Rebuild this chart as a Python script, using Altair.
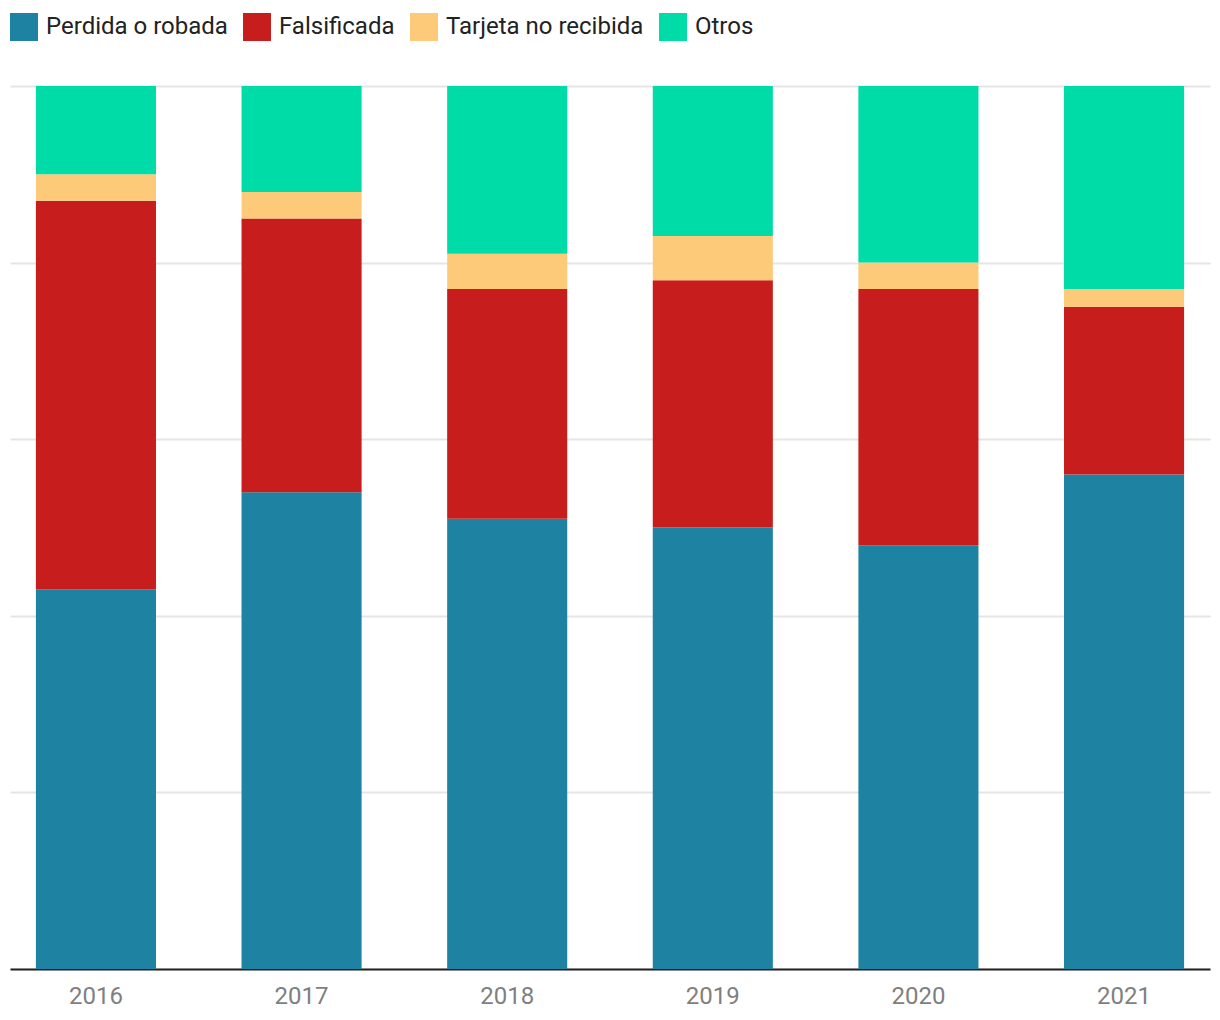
import altair as alt
import pandas as pd

years = ["2016", "2017", "2018", "2019", "2020", "2021"]
series = ["Perdida o robada", "Falsificada", "Tarjeta no recibida", "Otros"]
colors = ["#1e82a2", "#c71e1d", "#fdca7a", "#00dca8"]

perdida = [43, 54, 51, 50, 48, 56]
falsificada = [44, 31, 26, 28, 29, 19]
no_recibida = [3, 3, 4, 5, 3, 2]
otros = [10, 12, 19, 17, 20, 23]

rows = []
for i, y in enumerate(years):
    for k, (name, vals) in enumerate(zip(series, [perdida, falsificada, no_recibida, otros])):
        rows.append({"year": y, "tipo": name, "valor": vals[i], "orden": k})
df = pd.DataFrame(rows)

chart = alt.Chart(df).mark_bar().encode(
    x=alt.X("year:N", title=None,
            scale=alt.Scale(paddingInner=0.416, paddingOuter=0.126),
            axis=alt.Axis(labelAngle=0, labelFontSize=24, labelColor="#7f7f7f",
                          labelFont="Roboto", labelPadding=15, ticks=False,
                          domainColor="#222222", domainWidth=2, grid=False)),
    y=alt.Y("valor:Q", stack="normalize", title=None,
            scale=alt.Scale(domain=[0, 1], nice=False),
            axis=alt.Axis(values=[0, 0.2, 0.4, 0.6, 0.8, 1.0], labels=False, ticks=False,
                          domain=False, grid=True, gridColor="#e5e5e5", gridWidth=2)),
    color=alt.Color("tipo:N", scale=alt.Scale(domain=series, range=colors),
                    sort=series,
                    legend=alt.Legend(title=None, orient="none", legendX=0, legendY=-73,
                                      direction="horizontal", symbolType="square",
                                      symbolSize=784, symbolStrokeWidth=0, symbolOpacity=1,
                                      labelFontSize=24, labelFont="Roboto", labelLimit=0,
                                      labelColor="#222222", labelOffset=8,
                                      columnPadding=15, padding=0)),
    order=alt.Order("orden:Q", sort="ascending"),
).properties(
    width=1200, height=883,
    autosize=alt.AutoSizeParams(type="none"),
    padding={"left": 2, "top": 78, "right": 2, "bottom": 40},
).configure_view(stroke=None)

chart.save("out.html", embed_options={"renderer": "svg", "actions": False})
